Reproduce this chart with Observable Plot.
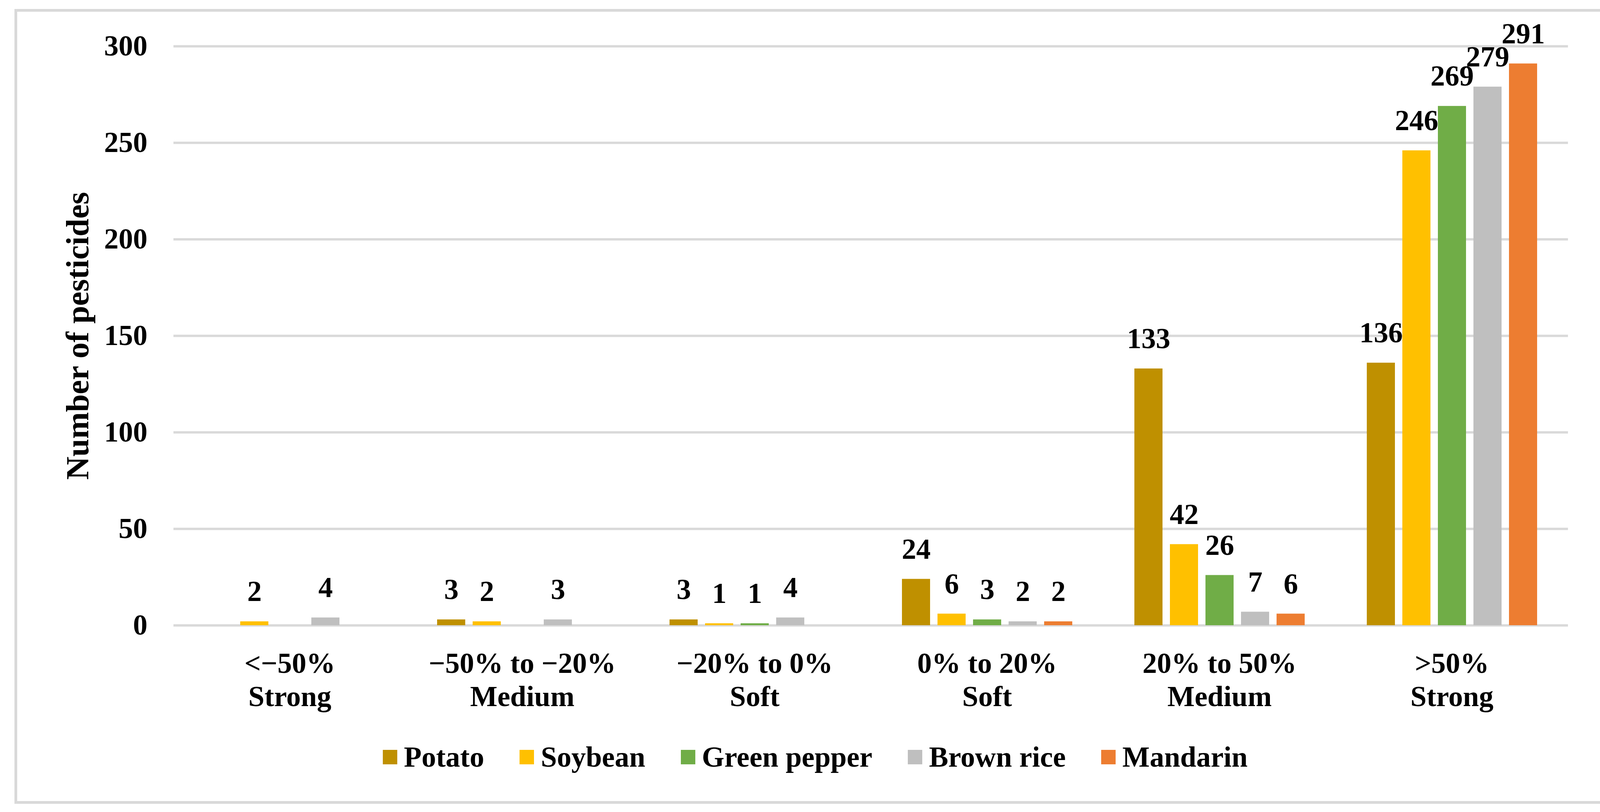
<!DOCTYPE html>
<html>
<head>
<meta charset="utf-8">
<script src="https://cdn.jsdelivr.net/npm/d3@7"></script>
<script src="https://cdn.jsdelivr.net/npm/@observablehq/plot@0.6"></script>
<style>
html, body { margin: 0; padding: 0; background: #fff; }
body { width: 4146px; height: 2078px; position: relative; overflow: hidden; font-family: "Liberation Serif", "Times New Roman", serif; }
#chart { position: absolute; left: 0; top: 0; }
#legend { position: absolute; left: 0; top: 1887px; width: 4146px; height: 100px; }
#legend .lg-swatches { display: flex; justify-content: center; align-items: center; flex-wrap: nowrap; height: 100px; width: 4146px; box-sizing: border-box; padding-left: 28px; margin: 0; font-family: "Liberation Serif", "Times New Roman", serif; font-weight: bold; font-size: 74px; color: #000; }
#legend .lg-swatch { display: inline-flex; align-items: center; margin-right: 91px; }
#legend .lg-swatch:last-child { margin-right: 0; }
#legend .lg-swatch > svg { margin-right: 17px; }
#frame { position: absolute; left: 37px; top: 23px; width: 4073px; height: 2034px; box-sizing: border-box; border: 7px solid #d9d9d9; pointer-events: none; }
</style>
</head>
<body>
<div id="chart"></div>
<div id="legend"></div>
<div id="frame"></div>
<script>
// ---- data ----
const ranges = ["<\u221250%", "\u221250% to \u221220%", "\u221220% to 0%", "0% to 20%", "20% to 50%", ">50%"];
const strengths = ["Strong", "Medium", "Soft", "Soft", "Medium", "Strong"];
const crops = ["Potato", "Soybean", "Green pepper", "Brown rice", "Mandarin"];
const colors = ["#BF9000", "#FFC000", "#70AD47", "#BFBFBF", "#ED7D31"];
const potato      = [null, 3, 3, 24, 133, 136];
const soybean     = [2, 2, 1, 6, 42, 246];
const greenPepper = [null, null, 1, 3, 26, 269];
const brownRice   = [4, 3, 4, 2, 7, 279];
const mandarin    = [null, null, null, 2, 6, 291];
const yTicks = [0, 50, 100, 150, 200, 250, 300];
const yTitle = "Number of pesticides";

// ---- table ----
const series = [potato, soybean, greenPepper, brownRice, mandarin];
const rows = [];
ranges.forEach((r, i) => crops.forEach((c, j) => {
  const v = series[j][i];
  if (v != null) rows.push({range: r, crop: c, value: v});
}));
const labelOf = new Map(ranges.map((r, i) => [r, r + "\n" + strengths[i]]));

const chart = Plot.plot({
  width: 4146,
  height: 1880,
  marginLeft: 442,
  marginRight: 131,
  marginTop: 118,
  marginBottom: 280,
  style: {fontFamily: '"Liberation Serif", "Times New Roman", serif', fontWeight: "bold", fontSize: "74px", color: "#000", background: "transparent", overflow: "visible"},
  fx: {domain: ranges, paddingInner: 0, paddingOuter: 0, label: null},
  x: {domain: crops, paddingInner: 0.21, paddingOuter: 0.86, axis: null},
  y: {domain: [0, 300], label: null},
  color: {domain: crops, range: colors},
  marks: [
    Plot.gridY(yTicks, {stroke: "#d9d9d9", strokeOpacity: 1, strokeWidth: 6}),
    Plot.barY(rows, {fx: "range", x: "crop", y: "value", fill: "crop"}),
    Plot.text(rows, {fx: "range", x: "crop", y: "value", text: d => String(d.value), dy: -76, fontSize: 74, fontWeight: "bold", fill: "#000"}),
    Plot.axisY(yTicks, {tickSize: 0, tickPadding: 67, fontSize: 74, fontWeight: "bold", label: null}),
    Plot.axisY([], {tickSize: 0, fontSize: 82, fontWeight: "bold", label: yTitle, labelAnchor: "center", labelOffset: 277, labelArrow: "none"}),
    Plot.axisFx({anchor: "bottom", tickSize: 0, tickPadding: 61, fontSize: 74, fontWeight: "bold", lineHeight: 1.15, tickFormat: d => labelOf.get(d), label: null})
  ]
});
document.getElementById("chart").append(chart);

const legend = Plot.legend({color: {domain: crops, range: colors}, swatchSize: 37, className: "lg"});
document.getElementById("legend").append(legend);
</script>
</body>
</html>
